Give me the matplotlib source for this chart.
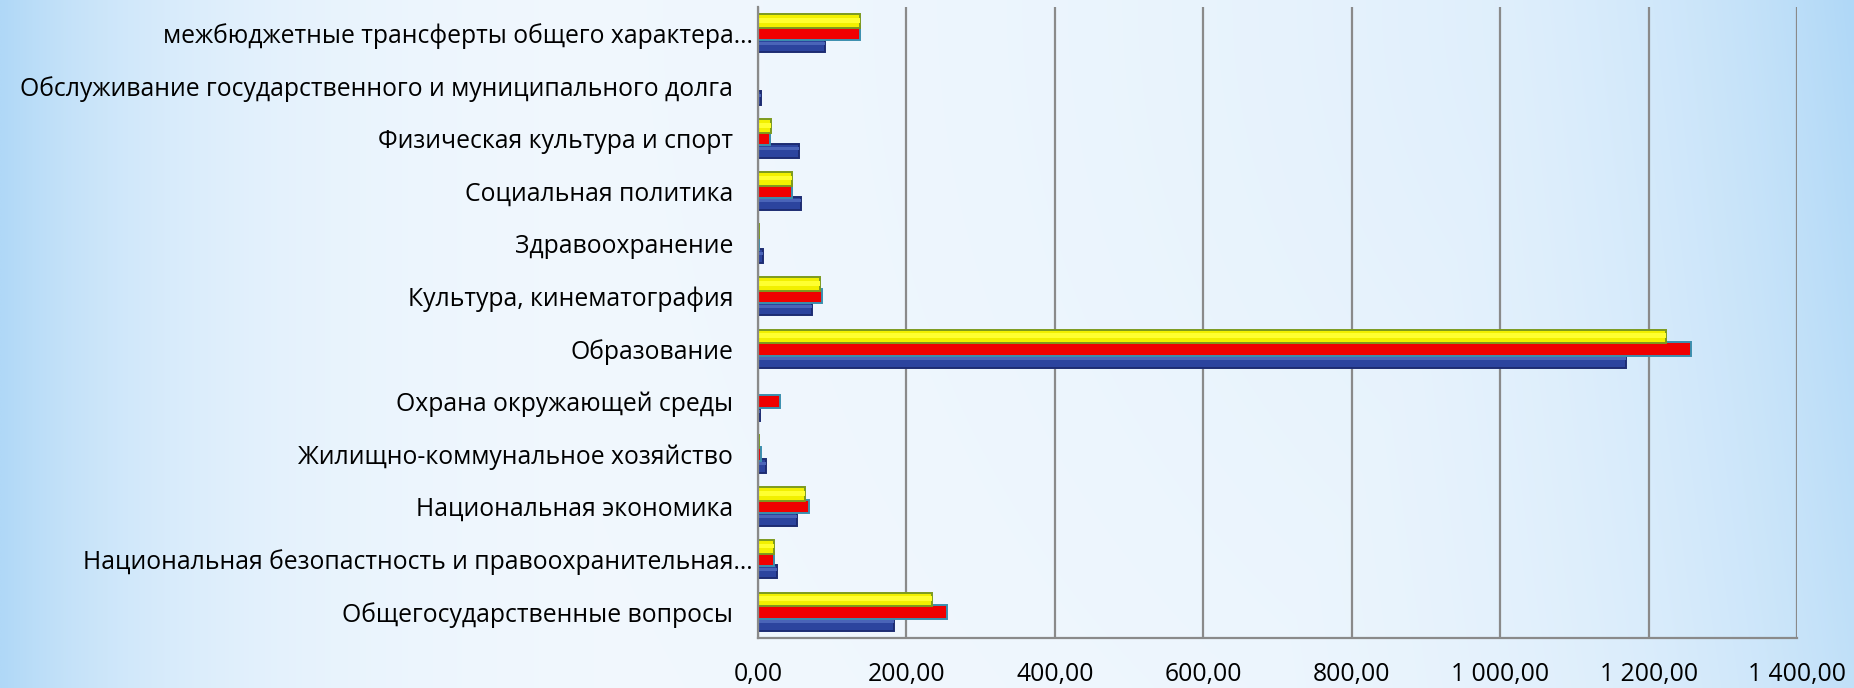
import numpy as np
import matplotlib
matplotlib.use("Agg")
import matplotlib.pyplot as plt
from matplotlib.ticker import FuncFormatter
from matplotlib.transforms import ScaledTranslation

categories = [
    "Общегосударственные вопросы",
    "Национальная безопастность и правоохранительная…",
    "Национальная экономика",
    "Жилищно-коммунальное хозяйство",
    "Охрана окружающей среды",
    "Образование",
    "Культура, кинематография",
    "Здравоохранение",
    "Социальная политика",
    "Физическая культура и спорт",
    "Обслуживание государственного и муниципального долга",
    "межбюджетные трансферты общего характера…",
]
series_blue = [183.7, 25.6, 53.0, 11.0, 3.0, 1170.0, 72.8, 7.2, 58.0, 55.7, 3.6, 90.4]
series_red = [255.0, 21.5, 69.0, 3.5, 29.7, 1257.0, 86.8, 2.0, 46.0, 16.5, 0.0, 137.8]
series_yellow = [235.0, 22.0, 63.0, 2.0, 0.0, 1223.0, 83.6, 2.0, 46.3, 17.0, 0.0, 137.2]
x_ticks = [0, 200, 400, 600, 800, 1000, 1200, 1400]

plt.rcParams['font.family'] = ['Open Sans', 'DejaVu Sans']

W, H = 1854, 688
fig = plt.figure(figsize=(W / 100, H / 100), dpi=100)

# background gradient
bg = fig.add_axes([0, 0, 1, 1], zorder=-10)
xx = np.linspace(0, W, 400)
yy = np.linspace(0, H, 160)
X, Y = np.meshgrid(xx, yy)
wl = np.exp(-X / 190.0)
wr = np.exp(-(W - X) / 300.0) * (0.75 + 0.25 * (1 - Y / H))
wt = np.exp(-np.hypot(W - X, Y) / 520.0) * 0.6
w = np.clip(np.maximum(np.maximum(wl, wr), wt), 0, 1)
c_light = np.array([244, 249, 254]) / 255.0
c_blue = np.array([176, 216, 247]) / 255.0
img = c_light[None, None, :] * (1 - w[..., None]) + c_blue[None, None, :] * w[..., None]
bg.imshow(img, aspect='auto', extent=[0, W, H, 0], interpolation='bilinear')
bg.set_axis_off()

ax = fig.add_axes([758 / W, 50 / H, (1797 - 758) / W, (681 - 50) / H])
ax.set_facecolor('none')

y = np.arange(len(categories))
h = 0.26
d = 0.235
ax.barh(y - d, series_blue, height=h, color='#2c449e', edgecolor='#1d2c72', linewidth=1.4, zorder=3)
ax.barh(y, series_red, height=h, color='#f00000', edgecolor='#3b8fae', linewidth=1.4, zorder=4)
ax.barh(y + d, series_yellow, height=h, color='#f2f000', edgecolor='#7c9a1e', linewidth=1.4, zorder=5)
# bevel highlights
ax.barh(y - d + h * 0.18, series_blue, height=h * 0.22, color='#4a64b8', linewidth=0, zorder=3.5)
ax.barh(y + d + h * 0.05, series_yellow, height=h * 0.35, color='#ffff30', linewidth=0, zorder=5.5)

ax.set_xlim(0, 1400)
ax.set_ylim(-0.5, len(categories) - 0.5)
ax.set_xticks(x_ticks)
ax.xaxis.set_major_formatter(FuncFormatter(lambda v, p: f"{v:,.2f}".replace(",", " ").replace(".", ",")))
ax.set_yticks(y)
ax.set_yticklabels(categories)
ax.tick_params(axis='both', length=0, labelsize=17.8, colors='#000000')
ax.tick_params(axis='y', pad=18)
ax.tick_params(axis='x', pad=17)

ax.grid(axis='x', color='#8a8a8a', linewidth=1.6, zorder=1)
for s in ['top', 'right']:
    ax.spines[s].set_visible(False)
for s in ['left', 'bottom']:
    ax.spines[s].set_color('#8a8a8a')
    ax.spines[s].set_linewidth(1.6)
    ax.spines[s].set_zorder(6)

shift = ScaledTranslation(20 / 100, 0, fig.dpi_scale_trans)
for lbl in ax.get_yticklabels():
    if lbl.get_text().endswith("…"):
        lbl.set_transform(lbl.get_transform() + shift)

fig.savefig("out.png", dpi=100)
